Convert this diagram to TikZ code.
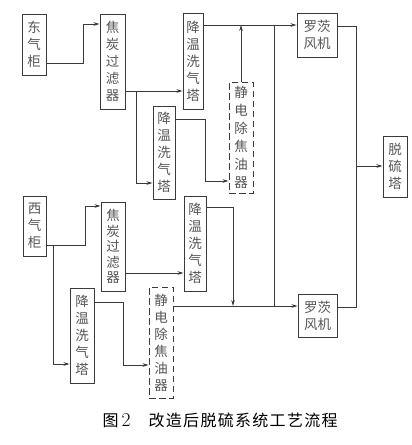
\documentclass[tikz,border=0pt]{standalone}
\usepackage{fontspec}
\newfontfamily\cjk{Noto Sans CJK SC}
\usetikzlibrary{arrows.meta}
\definecolor{linec}{HTML}{3A3A3A}
\definecolor{txtc}{HTML}{555555}
\newcommand{\ck}{\kern1.3pt}
\begin{document}
\begin{tikzpicture}[x=1pt,y=-1pt,
  box/.style={draw=linec, line width=0.9pt, inner sep=0pt, align=center,
    font=\fontsize{13.5}{17}\selectfont\cjk, text=txtc},
  dbox/.style={box, dash pattern=on 6.5pt off 3.5pt},
  pipe/.style={draw=linec, line width=0.9pt},
  flow/.style={pipe, -{Stealth[length=6pt,width=3.6pt]}}]
\useasboundingbox (0,0) rectangle (412,445);
% west line
\node[box, minimum width=24pt, minimum height=61pt] (dong) at (34,44.5) {东\\气\\柜};
\node[box, minimum width=25pt, minimum height=95pt] (jt1) at (112.5,61.5) {焦\\炭\\过\\滤\\器};
\node[box, minimum width=20pt, minimum height=96pt] (jw1) at (193,61) {降\\温\\洗\\气\\塔};
\node[box, minimum width=22pt, minimum height=93pt] (jw2) at (164,152.5) {降\\温\\洗\\气\\塔};
\node[dbox, minimum width=24pt, minimum height=111pt,
  font=\fontsize{13.5}{18}\selectfont\cjk] (jd1) at (241,137.5) {静\\电\\除\\焦\\油\\器};
\node[box, minimum width=40pt, minimum height=44pt] (lc1) at (317,35) {罗茨\\风机};
\node[box, minimum width=24pt, minimum height=61pt] (ts) at (395,166.5) {脱\\硫\\塔};
\node[box, minimum width=23pt, minimum height=60pt] (xi) at (34.5,226) {西\\气\\柜};
\node[box, minimum width=24pt, minimum height=89pt,
  font=\fontsize{13.5}{15.5}\selectfont\cjk] (jt2) at (113,246.5) {焦\\炭\\过\\滤\\器};
\node[box, minimum width=22pt, minimum height=95pt] (jw4) at (195,243.5) {降\\温\\洗\\气\\塔};
\node[box, minimum width=24pt, minimum height=95pt] (jw3) at (82,335.5) {降\\温\\洗\\气\\塔};
\node[dbox, minimum width=24pt, minimum height=111pt] (jd2) at (161,342.5) {静\\电\\除\\焦\\油\\器};
\node[box, minimum width=39pt, minimum height=43pt] (lc2) at (317.5,315.5) {罗茨\\风机};
% connectors, upper train
\draw[flow] (dong.east |- 0,63) -- (83,63) |- (jt1.west |- 0,24);
\draw[flow] (jt1.east |- 0,91) -- (jw1.west |- 0,91);
\coordinate (b1) at (136,91);
\draw[flow] (b1) |- (jw2.west |- 0,183);
\draw[flow] (jw2.east |- 0,119) -- (205,119) |- (jd1.west |- 0,181);
\draw[flow] (jd1.north) -- (241,25);
\draw[flow] (jw1.east |- 0,25) -- (lc1.west |- 0,25);
\coordinate (t1) at (274,25);
\coordinate (t2) at (274,306);
\draw[pipe] (t1) -- (t2);
\draw[pipe] (lc1.east |- 0,26) -- (356,26) -- (356,307) -- (lc2.east |- 0,307);
\coordinate (b2) at (356,166);
\draw[flow] (b2) -- (ts.west |- 0,166);
% lower train
\draw[flow] (xi.east |- 0,245) -- (85,245) |- (jt2.west |- 0,206);
\coordinate (b3) at (53,245);
\draw[flow] (b3) |- (jw3.west |- 0,364);
\draw[flow] (jt2.east |- 0,273) -- (jw4.west |- 0,273);
\draw[flow] (jw3.east |- 0,302) -- (123,302) |- (jd2.west |- 0,365);
\draw[flow] (jd2.east |- 0,306) -- (lc2.west |- 0,306);
\draw[flow] (jw4.east |- 0,207) -| (233,306);
% caption
\node[anchor=west, inner sep=0pt, font=\fontsize{16}{18}\selectfont, text=black] (cap) at (102.5,420.5)
  {\cjk 图\kern3pt\fontsize{19.5}{20}\selectfont\rmfamily 2\kern18pt\cjk\fontsize{16}{18}\selectfont 改\ck 造\ck 后\ck 脱\ck 硫\ck 系\ck 统\ck 工\ck 艺\ck 流\ck 程};
\end{tikzpicture}
\end{document}
